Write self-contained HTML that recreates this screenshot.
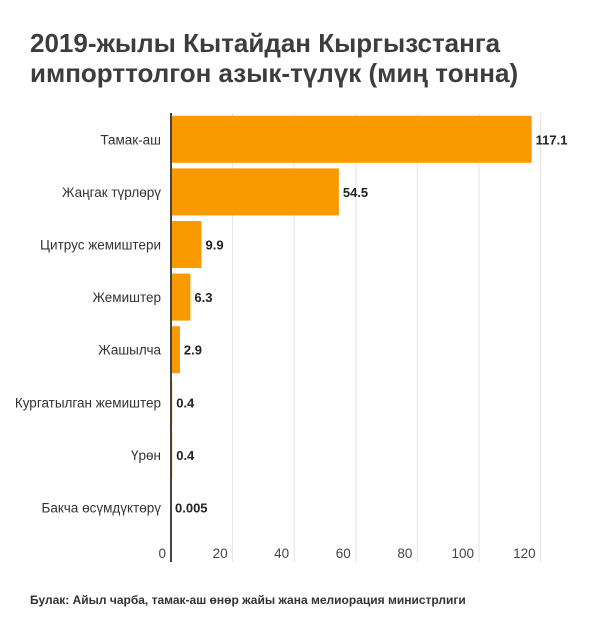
<!DOCTYPE html>
<html><head><meta charset="utf-8"><style>
body{margin:0;background:#fff;font-family:"Liberation Sans","DejaVu Sans",sans-serif;}
#wrap{position:relative;width:600px;height:636px;overflow:hidden;}
h1{position:absolute;left:30px;top:28px;margin:0;font-size:26px;line-height:30px;font-weight:bold;color:#3d3d3d;}
#src{position:absolute;left:30px;top:593px;font-size:12px;font-weight:bold;color:#333;}
</style></head><body>
<div id="wrap">
<h1>2019-жылы Кытайдан Кыргызстанга<br>импорттолгон азык-түлүк (миң тонна)</h1>
<svg id="chart" width="600" height="636" style="position:absolute;left:0;top:0"></svg>
<div id="src">Булак: Айыл чарба, тамак-аш өнөр жайы жана мелиорация министрлиги</div>
</div>
<script>
const categories=["Тамак-аш","Жаңгак түрлөрү","Цитрус жемиштери","Жемиштер","Жашылча","Кургатылган жемиштер","Үрөн","Бакча өсүмдүктөрү"];
const values=[117.1,54.5,9.9,6.3,2.9,0.4,0.4,0.005];
const labels=["117.1","54.5","9.9","6.3","2.9","0.4","0.4","0.005"];
const ticks=[0,20,40,60,80,100,120];
const svg=document.getElementById('chart');
const NS='http://www.w3.org/2000/svg';
const x0=171,sc=3.08,top0=113,step=52.6,bh=47;
function x(v){return x0+v*sc;}
function yc(i){return top0+step*i+step/2;}
function mk(t,a){const e=document.createElementNS(NS,t);for(const k in a)e.setAttribute(k,a[k]);svg.appendChild(e);return e;}
ticks.forEach((t,i)=>{
 if(t>0){const g=mk('line',{x1:x(t),x2:x(t),y1:top0,y2:562,stroke:'#e3e3e3','stroke-width':1});
 
 }
 const tx=mk('text',{x:x(t)-5,y:558,'text-anchor':'end','font-size':13.5,fill:'#444'});
 tx.textContent=t;
 
 
});
categories.forEach((c,i)=>{
 const r=mk('rect',{x:x0,y:yc(i)-bh/2,width:Math.max(x(values[i])-x0,0.5),height:bh,fill:'#f99a00'});
 
 
 const l=mk('text',{x:x(values[i])+4,y:yc(i)+5,'font-size':13,'font-weight':'bold',fill:'#222'});
 l.textContent=labels[i];
 
 
 const cl=mk('text',{x:161,y:yc(i)+5,'text-anchor':'end','font-size':13.5,fill:'#333'});
 cl.textContent=c;
 
 
});
const ax=mk('line',{x1:x0,x2:x0,y1:top0,y2:562,stroke:'#444','stroke-width':2});


</script>
</body></html>
